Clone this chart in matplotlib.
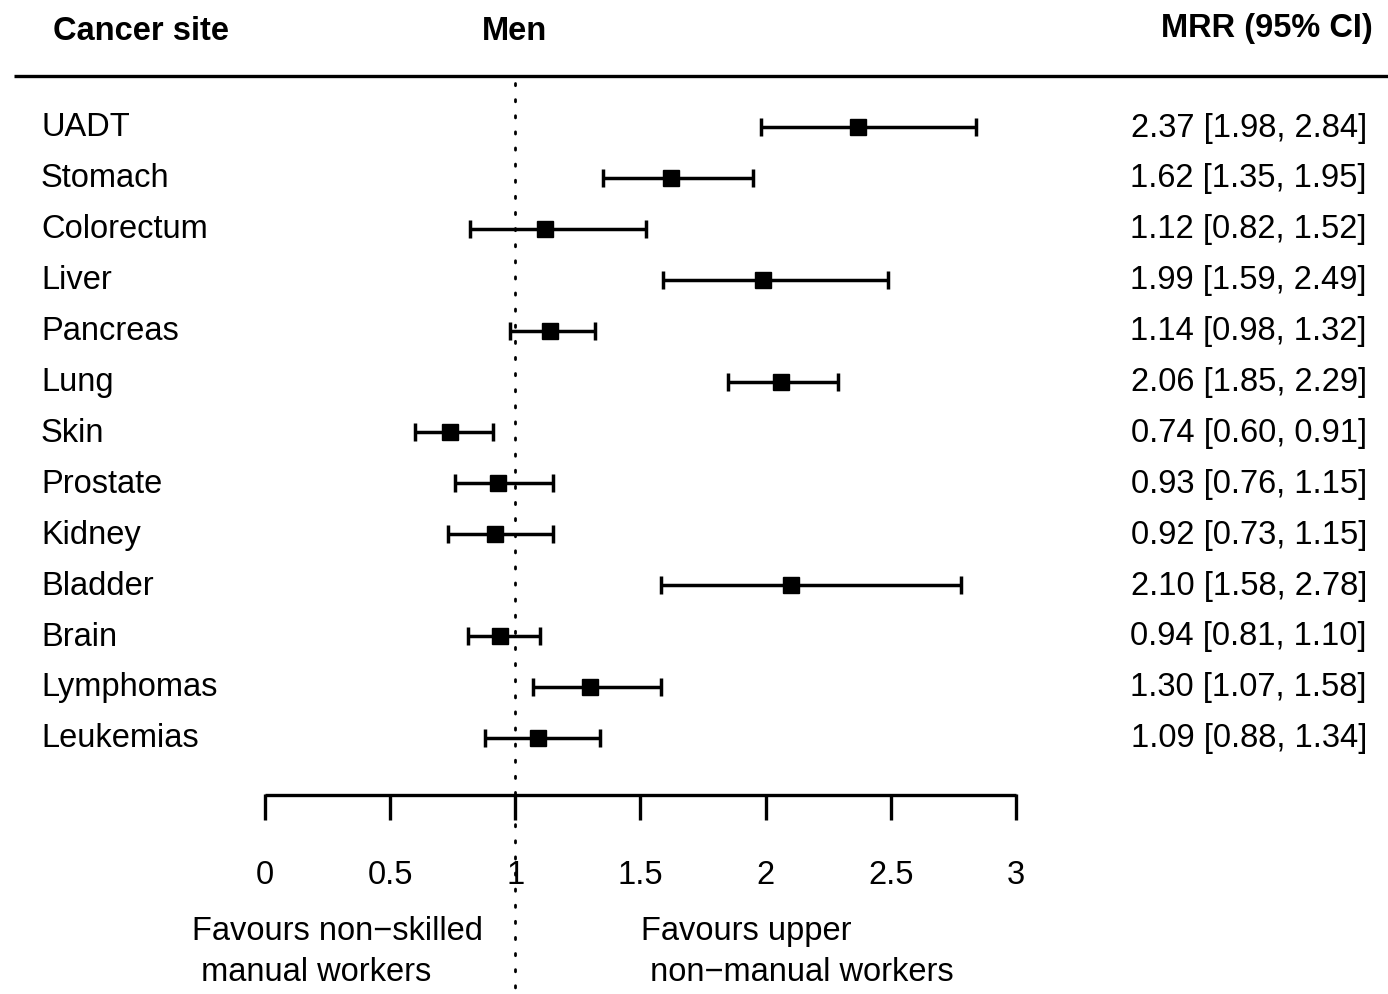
import matplotlib.pyplot as plt
from matplotlib.transforms import blended_transform_factory

plt.rcParams['font.family'] = ['Liberation Sans', 'DejaVu Sans']

sites = ["UADT", "Stomach", "Colorectum", "Liver", "Pancreas", "Lung", "Skin",
         "Prostate", "Kidney", "Bladder", "Brain", "Lymphomas", "Leukemias"]
mrr = [2.37, 1.62, 1.12, 1.99, 1.14, 2.06, 0.74, 0.93, 0.92, 2.10, 0.94, 1.30, 1.09]
lower = [1.98, 1.35, 0.82, 1.59, 0.98, 1.85, 0.60, 0.76, 0.73, 1.58, 0.81, 1.07, 0.88]
upper = [2.84, 1.95, 1.52, 2.49, 1.32, 2.29, 0.91, 1.15, 1.15, 2.78, 1.10, 1.58, 1.34]
ticks = [0, 0.5, 1, 1.5, 2, 2.5, 3]
tick_labels = ["0", "0.5", "1", "1.5", "2", "2.5", "3"]

W, H = 1388, 995
fig = plt.figure(figsize=(W / 100, H / 100), dpi=100)
ax = fig.add_axes([0, 0, 1, 1])
ax.set_xlim(-265 / 250.33, (W - 265) / 250.33)
ax.set_ylim(H, 0)
ax.axis("off")

fs = 23.5
px = blended_transform_factory(fig.transFigure, ax.transData)

def fx(p):
    return p / W

# header
ax.text(fx(53), 31, "Cancer site", transform=px, fontsize=fs, fontweight="bold", ha="left", va="center")
ax.text(0.995, 31, "Men", fontsize=fs, fontweight="bold", ha="center", va="center")
ax.text(fx(1373), 28, "MRR (95% CI)", transform=px, fontsize=fs, fontweight="bold", ha="right", va="center")
ax.plot([fx(14), 1.0], [77, 77], transform=px, color="black", lw=2.4, solid_capstyle="butt")

# reference line
ax.plot([1, 1], [84, H], color="black", lw=2, linestyle=(0, (0.8, 5)), dash_capstyle="round")

# rows
for i, (s, m, lo, hi) in enumerate(zip(sites, mrr, lower, upper)):
    y = 128 + i * 50.9
    ax.errorbar(m, y, xerr=[[m - lo], [hi - m]], fmt="s", color="black", ms=11,
                elinewidth=2.5, capsize=6.5, capthick=2.5, zorder=3)
    ax.text(fx(41), y, s, transform=px, fontsize=fs, ha="left", va="center")
    ax.text(fx(1367), y, f"{m:.2f} [{lo:.2f}, {hi:.2f}]", transform=px,
            fontsize=fs, ha="right", va="center")

# x axis
ax.plot([ticks[0], ticks[-1]], [796, 796], color="black", lw=2.4, solid_capstyle="butt")
for t, lab in zip(ticks, tick_labels):
    ax.plot([t, t], [795, 821], color="black", lw=2.4, solid_capstyle="butt")
    ax.text(t, 875, lab, fontsize=fs, ha="center", va="center")

ax.text(fx(192), 952, "Favours non\u2212skilled\n manual workers", transform=px,
        fontsize=fs, ha="left", va="center", linespacing=1.38)
ax.text(fx(641), 952, "Favours upper\n non\u2212manual workers", transform=px,
        fontsize=fs, ha="left", va="center", linespacing=1.38)

fig.savefig("out.png", dpi=100)
